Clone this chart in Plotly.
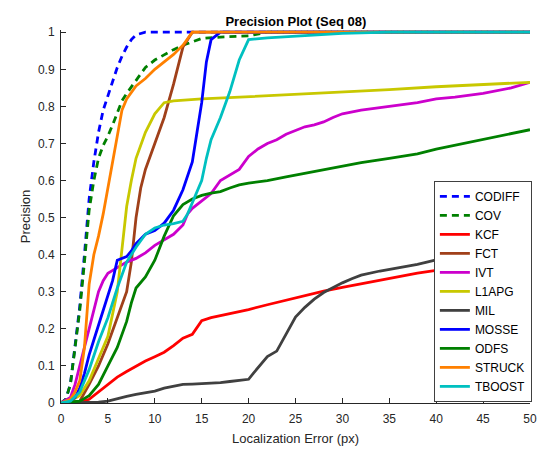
import plotly.graph_objects as go

# ---- data ----
codiff_x = [0, 0.5, 1, 1.5, 2, 2.5, 3, 3.5, 4, 4.5, 5, 5.5, 6, 6.5, 7, 7.5, 8, 9, 50]
codiff_y = [0, 0.01, 0.05, 0.15, 0.26, 0.40, 0.55, 0.65, 0.73, 0.79, 0.83, 0.87, 0.905, 0.935, 0.96, 0.98, 0.993, 1.0, 1.0]

cov_x = [0, 0.5, 1, 1.5, 2, 2.5, 3, 3.5, 4, 4.5, 5, 5.5, 6, 6.5, 7, 8, 9, 10, 11, 12, 13, 14, 15, 17, 20, 22, 50]
cov_y = [0, 0.01, 0.05, 0.15, 0.25, 0.38, 0.52, 0.60, 0.66, 0.695, 0.72, 0.75, 0.78, 0.815, 0.835, 0.87, 0.905, 0.925, 0.94, 0.953, 0.965, 0.975, 0.983, 0.987, 0.99, 1.0, 1.0]

kcf_x = [0, 2, 3, 4, 5, 6, 7, 8, 9, 10, 11, 12, 13, 14, 15, 16, 18, 20, 22, 24, 26, 28, 30, 32, 34, 36, 38, 40, 42, 45, 48, 50]
kcf_y = [0, 0.002, 0.01, 0.03, 0.05, 0.07, 0.085, 0.10, 0.113, 0.125, 0.137, 0.155, 0.175, 0.185, 0.222, 0.23, 0.24, 0.252, 0.265, 0.278, 0.29, 0.302, 0.312, 0.322, 0.332, 0.341, 0.35, 0.358, 0.367, 0.38, 0.392, 0.40]

fct_x = [0, 2, 3, 4, 5, 6, 7, 7.5, 8, 8.5, 9, 10, 11, 12, 13, 14, 50]
fct_y = [0, 0.005, 0.05, 0.10, 0.16, 0.23, 0.30, 0.38, 0.50, 0.58, 0.63, 0.70, 0.77, 0.86, 0.96, 1.0, 1.0]

ivt_x = [0, 1, 1.5, 2, 2.5, 3, 3.5, 4, 4.5, 5, 6, 7, 8, 9, 10, 11, 12, 13, 13.5, 14, 15, 16, 17, 18, 19, 20, 21, 22, 23, 24, 25, 26, 27, 28, 29, 30, 32, 35, 38, 40, 42, 45, 48, 50]
ivt_y = [0, 0.015, 0.05, 0.10, 0.15, 0.20, 0.25, 0.30, 0.33, 0.35, 0.365, 0.38, 0.39, 0.405, 0.425, 0.44, 0.455, 0.48, 0.51, 0.525, 0.545, 0.565, 0.60, 0.615, 0.63, 0.665, 0.685, 0.70, 0.71, 0.725, 0.735, 0.745, 0.75, 0.758, 0.77, 0.78, 0.79, 0.80, 0.81, 0.82, 0.825, 0.835, 0.85, 0.865]

l1apg_x = [0, 1, 2, 3, 4, 5, 6, 6.5, 7, 7.5, 8, 9, 10, 11, 12, 15, 20, 25, 30, 35, 40, 45, 50]
l1apg_y = [0, 0.005, 0.02, 0.06, 0.12, 0.18, 0.30, 0.42, 0.53, 0.60, 0.66, 0.73, 0.78, 0.81, 0.815, 0.82, 0.826, 0.833, 0.84, 0.845, 0.853, 0.86, 0.865]

mil_x = [0, 4, 5, 6, 7, 8, 9, 10, 11, 12, 13, 14, 15, 16, 17, 18, 19, 20, 20.5, 21, 22, 23, 24, 25, 26, 27, 28, 29, 30, 31, 32, 34, 36, 38, 40, 42, 45, 48, 50]
mil_y = [0, 0.002, 0.005, 0.012, 0.018, 0.023, 0.027, 0.032, 0.04, 0.046, 0.05, 0.051, 0.052, 0.053, 0.055, 0.058, 0.062, 0.064, 0.08, 0.095, 0.125, 0.14, 0.185, 0.232, 0.258, 0.28, 0.298, 0.312, 0.324, 0.335, 0.345, 0.356, 0.365, 0.374, 0.386, 0.395, 0.41, 0.42, 0.43]

mosse_x = [0, 1, 1.5, 2, 2.5, 3, 3.5, 4, 5, 5.5, 6, 6.5, 7, 7.5, 8, 9, 10, 11, 12, 13, 14, 14.5, 15, 15.5, 16, 17, 50]
mosse_y = [0, 0.005, 0.015, 0.04, 0.08, 0.13, 0.17, 0.21, 0.29, 0.33, 0.385, 0.39, 0.395, 0.41, 0.43, 0.455, 0.465, 0.485, 0.52, 0.575, 0.65, 0.73, 0.81, 0.92, 0.98, 1.0, 1.0]

odfs_x = [0, 1, 2, 3, 4, 5, 6, 7, 7.5, 8, 9, 10, 10.5, 11, 12, 13, 14, 15, 16, 17, 18, 19, 20, 22, 24, 26, 28, 30, 32, 35, 38, 40, 42, 45, 48, 50]
odfs_y = [0, 0.002, 0.005, 0.02, 0.05, 0.10, 0.15, 0.22, 0.27, 0.31, 0.34, 0.385, 0.42, 0.45, 0.505, 0.535, 0.55, 0.56, 0.566, 0.57, 0.58, 0.588, 0.593, 0.60, 0.61, 0.62, 0.63, 0.64, 0.648, 0.66, 0.672, 0.685, 0.695, 0.71, 0.725, 0.737]

struck_x = [0, 1, 1.5, 2, 2.5, 3, 3.5, 4, 4.5, 5, 5.5, 6, 6.5, 7, 8, 9, 10, 11, 12, 13, 14, 50]
struck_y = [0, 0.01, 0.03, 0.06, 0.15, 0.32, 0.40, 0.45, 0.51, 0.58, 0.66, 0.73, 0.79, 0.82, 0.855, 0.875, 0.90, 0.92, 0.94, 0.965, 1.0, 1.0]

tboost_x = [0, 1, 2, 3, 4, 5, 6, 7, 8, 9, 10, 11, 12, 13, 13.5, 14, 15, 15.5, 16, 17, 18, 19, 20, 22, 25, 30, 35, 50]
tboost_y = [0, 0.005, 0.03, 0.09, 0.165, 0.23, 0.31, 0.38, 0.42, 0.455, 0.472, 0.48, 0.484, 0.49, 0.51, 0.54, 0.60, 0.66, 0.71, 0.77, 0.84, 0.925, 0.98, 0.985, 0.99, 0.997, 1.0, 1.0]

names = ["CODIFF", "COV", "KCF", "FCT", "IVT", "L1APG", "MIL", "MOSSE", "ODFS", "STRUCK", "TBOOST"]
xs = [codiff_x, cov_x, kcf_x, fct_x, ivt_x, l1apg_x, mil_x, mosse_x, odfs_x, struck_x, tboost_x]
ys = [codiff_y, cov_y, kcf_y, fct_y, ivt_y, l1apg_y, mil_y, mosse_y, odfs_y, struck_y, tboost_y]
colors = ["#0000FF", "#008000", "#FF0000", "#A0401A", "#CC00CC", "#C8C800",
          "#404040", "#0000FF", "#008000", "#FF8000", "#00C0C0"]
dashes = ["7px,5px", "7px,5px"] + ["solid"] * 9

x_ticks = [0, 5, 10, 15, 20, 25, 30, 35, 40, 45, 50]
y_ticks = [0, 0.1, 0.2, 0.3, 0.4, 0.5, 0.6, 0.7, 0.8, 0.9, 1]
y_ticklabels = ["0", "0.1", "0.2", "0.3", "0.4", "0.5", "0.6", "0.7", "0.8", "0.9", "1"]

FONT = "Arial, Liberation Sans, Helvetica, sans-serif"
AX = "#262626"

fig = go.Figure()
for n, x, y, c, d in zip(names, xs, ys, colors, dashes):
    fig.add_trace(go.Scatter(x=x, y=y, name=n, mode="lines",
                             line=dict(color=c, width=2.8, dash=d)))

fig.update_layout(
    width=552, height=451,
    margin=dict(l=61, r=22, t=30, b=48, autoexpand=False),
    paper_bgcolor="white", plot_bgcolor="white",
    font=dict(family=FONT, size=12, color=AX),
    title=dict(text="<b>Precision Plot (Seq 08)</b>", x=0.536, xanchor="center",
               y=0.953, yanchor="middle", font=dict(size=13, color="black")),
    showlegend=True,
    legend=dict(x=1.004, y=0.003, xanchor="right", yanchor="bottom",
                bgcolor="white", bordercolor="#404040", borderwidth=1,
                font=dict(size=12, color="black"), tracegroupgap=0),
    xaxis=dict(range=[0, 50], tickvals=x_ticks, ticks="inside", ticklen=5,
               tickcolor=AX, showline=True, linecolor=AX, linewidth=1,
               showgrid=False, zeroline=False, mirror=False, automargin=False,
               ticklabelstandoff=5,
               tickfont=dict(size=12, color=AX),
               title=dict(text="Localization Error (px)", font=dict(size=13, color=AX), standoff=8)),
    yaxis=dict(range=[0, 1.006], tickvals=y_ticks, ticktext=y_ticklabels, ticks="inside",
               ticklen=5, tickcolor=AX, showline=True, linecolor=AX, linewidth=1,
               showgrid=False, zeroline=False, mirror=False, automargin=False,
               ticklabelstandoff=3,
               tickfont=dict(size=12, color=AX),
               title=dict(text="Precision", font=dict(size=13, color=AX), standoff=4)),
)

fig.write_html("out.html")
